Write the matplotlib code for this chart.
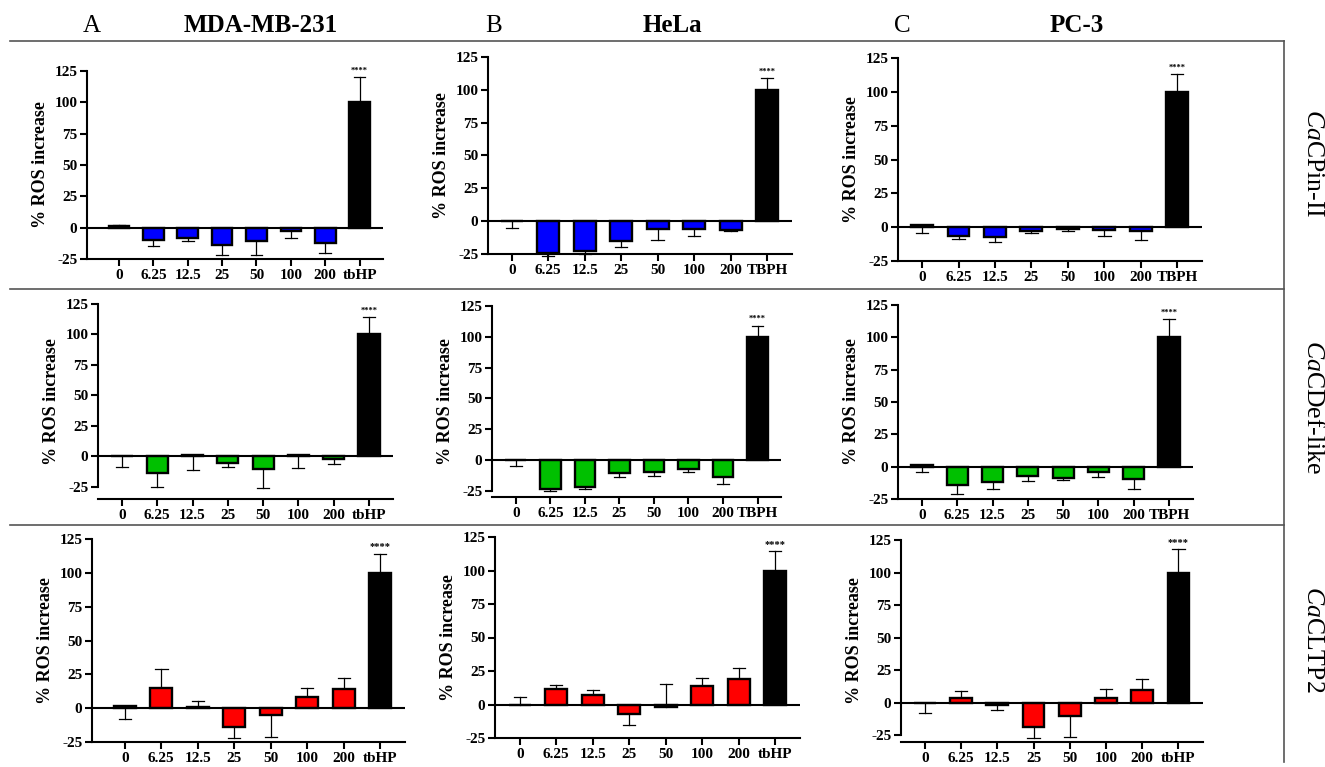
import matplotlib
matplotlib.use("Agg")
import matplotlib.pyplot as plt
from matplotlib.lines import Line2D

plt.rcParams["font.family"] = "Liberation Serif"
plt.rcParams["axes.unicode_minus"] = False
plt.rcParams["mathtext.fontset"] = "custom"
plt.rcParams["mathtext.rm"] = "Liberation Serif"
plt.rcParams["mathtext.it"] = "Liberation Serif:italic"

concs = ["0", "6.25", "12.5", "25", "50", "100", "200"]
cell_lines = ["MDA-MB-231", "HeLa", "PC-3"]
letters = ["A", "B", "C"]
peptides = [r"$\mathit{Ca}$CPin-II", r"$\mathit{Ca}$CDef-like", r"$\mathit{Ca}$CLTP2"]
peptide_colors = ["#0000ff", "#00c000", "#ff0000"]
controls = [["tbHP", "TBPH", "TBPH"],
            ["tbHP", "TBPH", "TBPH"],
            ["tbHP", "tbHP", "tbHP"]]

# mean % ROS increase (7 concentrations + positive control)
cpin_mda = [1.5, -10, -8.5, -14, -11, -3, -12, 100]
cpin_hela = [0, -24, -22.7, -15, -5.6, -6, -6.4, 100]
cpin_pc3 = [1.5, -6.2, -6.9, -2.5, -1.5, -2.2, -3.2, 100]
cdef_mda = [0, -13.7, 1.4, -5.2, -10.1, 1.1, -2.5, 100]
cdef_hela = [0, -23.2, -21.5, -10.2, -9.4, -7, -13.7, 100]
cdef_pc3 = [1.5, -13.9, -12.1, -7, -9, -3.9, -9.3, 100]
cltp_mda = [1.7, 14.8, 1.2, -13.8, -5.4, 8.2, 13.8, 100]
cltp_hela = [0, 11.9, 7.4, -6.9, -1.5, 13.6, 19.3, 100]
cltp_pc3 = [0, 3.9, -1.8, -18.7, -10, 4.1, 10, 100]

# one-sided SD, sign = direction the bar is drawn
cpin_mda_sd = [0.5, -5, -2.5, -8, -10.5, -5.5, -8, 20]
cpin_hela_sd = [-5, -2.7, -2.5, -4.6, -8.4, -5.5, -1, 9]
cpin_pc3_sd = [-5.7, -2.2, -4.2, -2, -1.5, -4.2, -6, 13]
cdef_mda_sd = [-9, -11.8, -13, -3.8, -16, -11, -3.5, 14.5]
cdef_hela_sd = [-4.6, -1.6, -1.7, -3.5, -3.3, -2.7, -5.7, 9]
cdef_pc3_sd = [-6, -7.2, -4.9, -4.1, -1.6, -4.1, -8.2, 14]
cltp_mda_sd = [-10, 14.4, 4.2, -8.2, -15.8, 6.6, 8.4, 14]
cltp_hela_sd = [5.7, 2.5, 3.7, -8.2, 16.6, 6.2, 7.7, 14.4]
cltp_pc3_sd = [-7.7, 5.1, -3.8, -8.5, -16.4, 6.7, 8.5, 18]

means = [[cpin_mda, cpin_hela, cpin_pc3],
         [cdef_mda, cdef_hela, cdef_pc3],
         [cltp_mda, cltp_hela, cltp_pc3]]
sds = [[cpin_mda_sd, cpin_hela_sd, cpin_pc3_sd],
       [cdef_mda_sd, cdef_hela_sd, cdef_pc3_sd],
       [cltp_mda_sd, cltp_hela_sd, cltp_pc3_sd]]

W, H = 1325, 767
# pixel box of each axes: left, right, top(=125), bottom, y min, x min
boxes = [[(87, 383, 71, 259, -25, -0.93), (488, 792, 57, 254, -25, -0.65), (898, 1202, 58, 261, -25, -0.66)],
         [(98, 393, 304, 499, -35, -0.68), (492, 781, 306, 497, -30, -0.69), (898, 1193, 305, 499, -25, -0.68)],
         [(92, 405, 539, 742, -25, -0.9), (495, 800, 537, 738, -25, -0.68), (901, 1203, 540, 742, -30, -0.66)]]
star_size = [6, 6, 7.5]

fig = plt.figure(figsize=(W / 100, H / 100), dpi=100)

for r in range(3):
    for c in range(3):
        l, rt, t, b, ymin, xmin = boxes[r][c]
        ax = fig.add_axes([l / W, 1 - b / H, (rt - l) / W, (b - t) / H])
        m = means[r][c]
        e = sds[r][c]
        x = list(range(len(m)))
        cols = [peptide_colors[r]] * 7 + ["black"]
        # error bars (one-sided)
        for xi, mi, ei in zip(x, m, e):
            ax.plot([xi, xi], [mi, mi + ei], color="black", lw=0.9, zorder=2, clip_on=False)
            ax.plot([xi - 0.17, xi + 0.17], [mi + ei, mi + ei], color="black", lw=0.9, zorder=2, clip_on=False)
        ax.bar(x, m, width=0.6, color=cols, edgecolor="black", linewidth=1.7, zorder=3, clip_on=False)
        ax.axhline(0, color="black", lw=1.5, zorder=4)
        top = m[-1] + e[-1]
        ax.text(x[-1], top + 2, "****", ha="center", va="bottom", fontsize=star_size[r], fontweight="bold")

        ax.set_xlim(xmin, 7.68)
        ax.set_ylim(ymin, 125)
        ax.set_yticks([-25, 0, 25, 50, 75, 100, 125])
        ax.set_xticks(x)
        ax.set_xticklabels(concs + [controls[r][c]])
        ax.spines["top"].set_visible(False)
        ax.spines["right"].set_visible(False)
        ax.spines["left"].set_bounds(-25, 125)
        for s in ("left", "bottom"):
            ax.spines[s].set_linewidth(1.5)
        ax.tick_params(width=1.5, length=5, labelsize=11, pad=2)
        for lab in ax.get_xticklabels() + ax.get_yticklabels():
            lab.set_fontweight("bold")
        ax.set_ylabel("% ROS increase", fontsize=13, fontweight="bold", labelpad=4)

# column headers
letter_x = [92, 494, 902]
title_x = [261, 672, 1077]
for c in range(3):
    fig.text(letter_x[c] / W, 1 - 26 / H, letters[c], ha="center", va="center", fontsize=18)
    fig.text(title_x[c] / W, 1 - 26 / H, cell_lines[c], ha="center", va="center", fontsize=18, fontweight="bold")

# row labels
row_y = [163, 407, 639]
for r in range(3):
    fig.text(1313 / W, 1 - row_y[r] / H, peptides[r], ha="center", va="center", rotation=270, fontsize=18.5)

# separator lines
for y in (41, 289, 525):
    fig.add_artist(Line2D([10 / W, 1284 / W], [1 - y / H, 1 - y / H], color="#555555", lw=1.2))
fig.add_artist(Line2D([1284 / W, 1284 / W], [1 - 41 / H, 1 - 762 / H], color="#555555", lw=1.2))

fig.savefig("out.png", dpi=100)
